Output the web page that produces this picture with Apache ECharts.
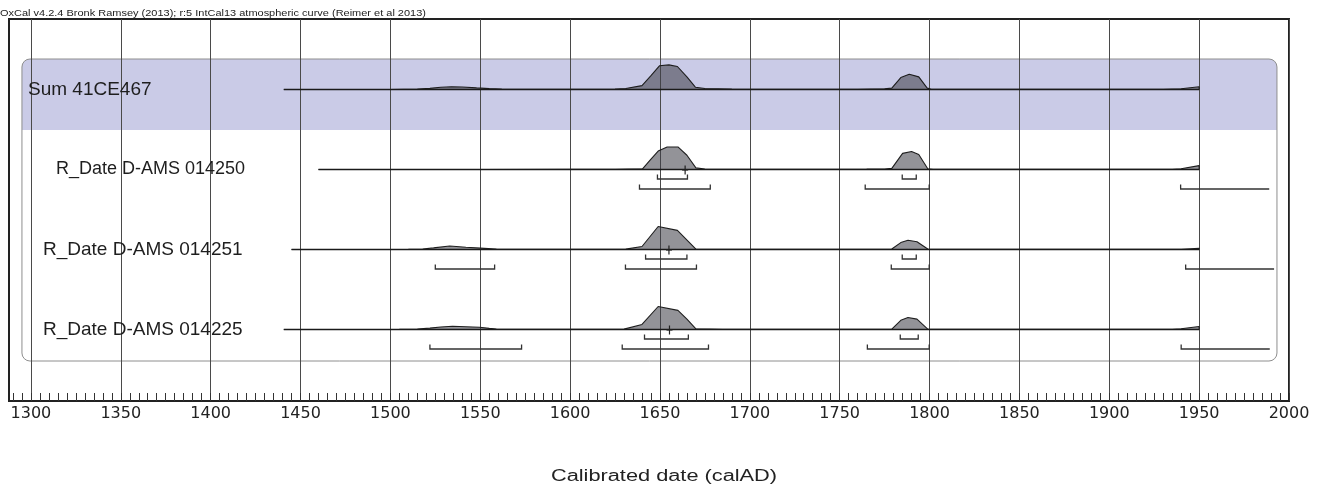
<!DOCTYPE html>
<html><head><meta charset="utf-8">
<script src="https://cdn.jsdelivr.net/npm/echarts@6/dist/echarts.min.js"></script>
<style>html,body{margin:0;padding:0;background:#fff}#c{width:1325px;height:489px}</style>
</head><body><div id="c"></div>
<script>
// ---------------- data ----------------
const titleText = 'OxCal v4.2.4 Bronk Ramsey (2013); r:5 IntCal13 atmospheric curve (Reimer et al 2013)';
const axisTitle = 'Calibrated date (calAD)';
const rowLabels = ['Sum 41CE467', 'R_Date D-AMS 014250', 'R_Date D-AMS 014251', 'R_Date D-AMS 014225'];
const xTickLabels = [1300,1350,1400,1450,1500,1550,1600,1650,1700,1750,1800,1850,1900,1950,2000];

// relative probability (1 = row peak height), [calAD, density]
const sumCurve = [[1440.7,0],[1500,0.003],[1515,0.015],[1522,0.05],[1528,0.1],[1534,0.12],[1540,0.11],[1548,0.07],[1555,0.04],[1562,0.015],[1580,0.006],[1610,0.006],[1625,0.015],[1631,0.04],[1640,0.17],[1645,0.6],[1649.7,1.03],[1655,1.07],[1659.7,1.0],[1665,0.55],[1669.7,0.1],[1675,0.04],[1690,0.015],[1720,0.01],[1760,0.01],[1775,0.03],[1779,0.06],[1784,0.52],[1788.7,0.66],[1794,0.55],[1798.7,0.06],[1801,0.01],[1850,0.005],[1930,0.008],[1940,0.03],[1950,0.12],[1950,0]];
const d014250Curve = [[1460,0],[1550,0.002],[1600,0.004],[1625,0.008],[1640.3,0.03],[1645,0.45],[1649,0.8],[1654,0.98],[1660,0.98],[1665,0.62],[1670,0.07],[1675,0.025],[1700,0.008],[1750,0.006],[1765,0.015],[1775,0.025],[1779,0.05],[1785,0.7],[1790,0.78],[1794,0.65],[1799,0.03],[1802,0.005],[1900,0.004],[1935,0.01],[1940,0.03],[1950,0.17],[1950,0]];
const d014251Curve = [[1445,0],[1510,0.005],[1518,0.02],[1524,0.07],[1533,0.15],[1542,0.1],[1550,0.06],[1559,0.015],[1580,0.005],[1615,0.005],[1631,0.015],[1640,0.13],[1649,1.0],[1659.7,0.83],[1670,0.02],[1690,0.008],[1760,0.008],[1779,0.02],[1784,0.3],[1788,0.4],[1793,0.34],[1799,0.02],[1810,0.004],[1940,0.004],[1950,0.05],[1950,0]];
const d014225Curve = [[1440.7,0],[1505,0.005],[1515,0.02],[1522,0.06],[1528,0.11],[1534.6,0.14],[1542,0.12],[1549.6,0.1],[1555,0.05],[1559,0.02],[1575,0.008],[1610,0.006],[1630,0.015],[1640,0.22],[1649,1.0],[1660,0.83],[1665,0.45],[1670,0.03],[1685,0.01],[1760,0.008],[1779,0.02],[1784,0.4],[1788,0.52],[1793,0.45],[1799,0.02],[1810,0.005],[1935,0.008],[1940,0.03],[1950,0.13],[1950,0]];
const curves = [sumCurve, d014250Curve, d014251Curve, d014225Curve];

// mean markers (+) per row (null = none)
const means = [null, 1664, 1655, 1655.3];
// 68.2% and 95.4% ranges per row, [from, to]
const ranges68 = [[], [[1648.6,1665.3],[1784.8,1792.6]], [[1642,1665],[1784.8,1792.6]], [[1641.4,1665.8],[1783.7,1793.7]]];
const ranges95 = [[], [[1638.6,1678],[1764.2,1799.8],[1939.7,1989]], [[1525,1558],[1630.8,1670.3],[1778.7,1799.8],[1942.5,1991.7]], [[1522,1573],[1629,1677],[1765.4,1799.8],[1940,1989.3]]];

// ---------------- layout ----------------
const X_MIN = 1287.8, X_MAX = 2000;
const ROW_PX = 80;                       // pixels per row unit
const Y_MIN = -71.5 / ROW_PX, Y_MAX = 3 + 70.5 / ROW_PX;
const H = 23 / ROW_PX;                   // peak height
const OFF68 = -9.5 / ROW_PX, OFF95 = -19.5 / ROW_PX;
const PANEL = {x0: 1295, x1: 1993.3, top: 3 + 30.5 / ROW_PX, bandBottom: 3 - 40.5 / ROW_PX, bottom: -31.5 / ROW_PX};
const rowBase = i => 3 - i;

const minorTicks = [];
for (let y = 1290; y <= 2000; y += 5) minorTicks.push(y);

const chart = echarts.init(document.getElementById('c'), null, {renderer: 'canvas'});

const series = [];
// panel (band + rounded outline)
series.push({
  type: 'custom', z: -1, silent: true, data: [[PANEL.x0, PANEL.top]],
  renderItem(params, api) {
    const tl = api.coord([PANEL.x0, PANEL.top]);
    const br = api.coord([PANEL.x1, PANEL.bottom]);
    const bb = api.coord([PANEL.x1, PANEL.bandBottom]);
    return {type: 'group', children: [
      {type: 'rect', shape: {x: tl[0], y: tl[1], width: br[0] - tl[0], height: bb[1] - tl[1], r: [8, 8, 0, 0]}, style: {fill: '#cacbe7'}},
      {type: 'rect', shape: {x: tl[0], y: tl[1], width: br[0] - tl[0], height: br[1] - tl[1], r: 8}, style: {fill: null, stroke: '#8e8e8e', lineWidth: 1}}
    ]};
  }
});
// distributions
curves.forEach((c, i) => {
  const base = rowBase(i);
  series.push({
    type: 'line', name: rowLabels[i], showSymbol: false, silent: true, z: 3,
    data: c.map(p => [p[0], base + p[1] * H]),
    lineStyle: {color: '#1e1e1e', width: 1.1},
    areaStyle: {color: 'rgba(62,62,72,0.56)', opacity: 1, origin: base}
  });
});
// baselines
series.push({
  type: 'custom', silent: true, z: 4,
  data: curves.map((c, i) => [c[0][0], c[c.length - 1][0], rowBase(i)]),
  renderItem(params, api) {
    const a = api.coord([api.value(0), api.value(2)]);
    const b = api.coord([api.value(1), api.value(2)]);
    return {type: 'line', shape: {x1: a[0], y1: a[1], x2: b[0], y2: b[1]}, style: {stroke: '#1a1a1a', lineWidth: 1.5}};
  }
});
// ranges
const rangeData = [];
ranges68.forEach((rs, i) => rs.forEach(r => rangeData.push([r[0], r[1], rowBase(i) + OFF68])));
ranges95.forEach((rs, i) => rs.forEach(r => rangeData.push([r[0], r[1], rowBase(i) + OFF95])));
series.push({
  type: 'custom', silent: true, z: 4, data: rangeData,
  renderItem(params, api) {
    const x1 = api.value(0), x2 = api.value(1), y = api.value(2);
    const p1 = api.coord([x1, y]), p2 = api.coord([x2, y]);
    const pts = [[p1[0], p1[1] - 4.5], [p1[0], p1[1]], [p2[0], p2[1]]];
    if (x2 <= 1950) pts.push([p2[0], p2[1] - 4.5]);
    return {type: 'polyline', shape: {points: pts}, style: {stroke: '#333', lineWidth: 1.3, fill: null}};
  }
});
// mean crosses
series.push({
  type: 'custom', silent: true, z: 5,
  data: means.map((m, i) => m == null ? null : [m, rowBase(i)]).filter(Boolean),
  renderItem(params, api) {
    const p = api.coord([api.value(0), api.value(1)]);
    const y = p[1] + 0.5;
    return {type: 'group', children: [
      {type: 'line', shape: {x1: p[0], y1: y - 4.5, x2: p[0], y2: y + 4.5}, style: {stroke: '#222', lineWidth: 1.2}},
      {type: 'line', shape: {x1: p[0] - 3, y1: y, x2: p[0] + 3, y2: y}, style: {stroke: '#222', lineWidth: 1.2}}
    ]};
  }
});

const labelFonts = [19, 18, 19, 19];
const labelX = [28, 56, 43, 43];
const graphics = [
  {type: 'text', x: 0, y: 13.5, scaleX: 1.22, style: {text: titleText, font: '9px "Liberation Sans"', fill: '#222', textVerticalAlign: 'middle'}},
  {type: 'text', x: 664, y: 477, scaleX: 1.36, style: {text: axisTitle, font: '16px "Liberation Sans"', fill: '#222', textAlign: 'center', textVerticalAlign: 'middle'}}
];
rowLabels.forEach((t, i) => {
  graphics.push({type: 'text', x: labelX[i], y: 89.5 + i * ROW_PX, z: 10,
    style: {text: t, font: labelFonts[i] + 'px "Liberation Sans"', fill: '#1e1e1e', textVerticalAlign: 'middle'}});
});

chart.setOption({
  animation: false,
  backgroundColor: '#fff',
  grid: {left: 9, right: 36, top: 19, bottom: 88, show: true, borderColor: '#222', borderWidth: 2, backgroundColor: 'transparent'},
  xAxis: [
    {type: 'value', min: X_MIN, max: X_MAX, position: 'bottom',
     axisLine: {show: true, onZero: false, lineStyle: {color: '#222', width: 2}},
     axisTick: {show: true, inside: true, length: 8, customValues: xTickLabels, lineStyle: {color: '#333', width: 1}},
     axisLabel: {show: true, customValues: xTickLabels, formatter: v => String(v), margin: 5, fontFamily: 'DejaVu Sans', fontSize: 16, color: '#222'},
     splitLine: {show: true, lineStyle: {color: '#4a4a4a', width: 1}}},
    {type: 'value', min: X_MIN, max: X_MAX, position: 'bottom',
     axisLine: {show: false, onZero: false},
     axisTick: {show: true, inside: true, length: 8, customValues: minorTicks, lineStyle: {color: '#333', width: 1}},
     axisLabel: {show: false}, splitLine: {show: false}}
  ],
  yAxis: {type: 'value', min: Y_MIN, max: Y_MAX, show: false},
  graphic: graphics,
  series: series
});
</script></body></html>
